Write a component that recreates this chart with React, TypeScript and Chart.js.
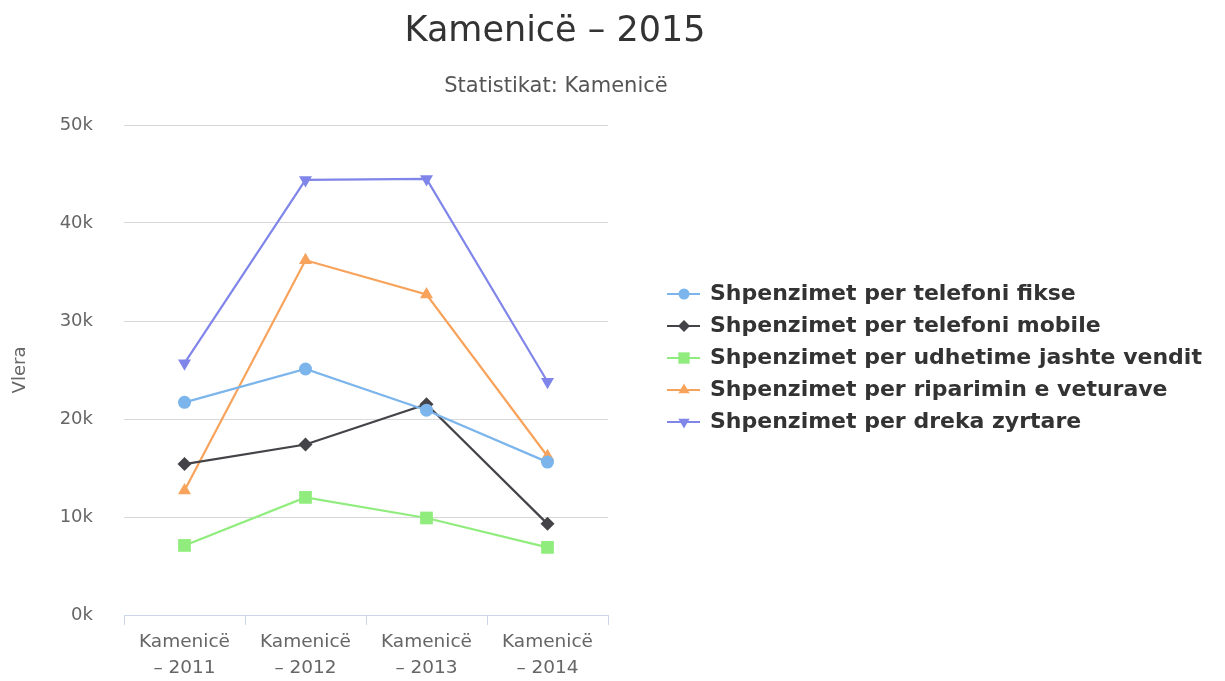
import React, { useEffect, useRef } from 'react';
import { Chart, registerables } from 'chart.js';

Chart.register(...registerables);

const categories: string[][] = [
  ['Kamenicë', '– 2011'],
  ['Kamenicë', '– 2012'],
  ['Kamenicë', '– 2013'],
  ['Kamenicë', '– 2014'],
];

const seriesNames = [
  'Shpenzimet per telefoni fikse',
  'Shpenzimet per telefoni mobile',
  'Shpenzimet per udhetime jashte vendit',
  'Shpenzimet per riparimin e veturave',
  'Shpenzimet per dreka zyrtare',
];

const telefoniFikse = [21700, 25100, 20900, 15600];
const telefoniMobile = [15400, 17400, 21500, 9300];
const udhetimeJashte = [7100, 12000, 9900, 6900];
const riparimiVeturave = [12700, 36200, 32700, 16200];
const drekaZyrtare = [25700, 44400, 44500, 23800];

const yTicks = [0, 10000, 20000, 30000, 40000, 50000];

const titleText = 'Kamenicë – 2015';
const subtitleText = 'Statistikat: Kamenicë';
const yTitle = 'Vlera';

const colors = ['#7cb5ec', '#434348', '#90ed7d', '#f7a35c', '#8085e9'];
const markers = ['circle', 'rectRot', 'rect', 'triangle', 'triangle'];
const rotations = [0, 0, 0, 0, 180];
const radii = [6.5, 7, 9, 7.5, 7.5];

const FONT = '"DejaVu Sans", "Lucida Grande", sans-serif';

function drawMarker(ctx: CanvasRenderingContext2D, style: string, rot: number, x: number, y: number, r: number) {
  ctx.beginPath();
  if (style === 'circle') {
    ctx.arc(x, y, r, 0, Math.PI * 2);
  } else if (style === 'rect') {
    const s = r * Math.SQRT1_2;
    ctx.rect(x - s, y - s, 2 * s, 2 * s);
  } else if (style === 'rectRot') {
    ctx.moveTo(x, y - r);
    ctx.lineTo(x + r, y);
    ctx.lineTo(x, y + r);
    ctx.lineTo(x - r, y);
    ctx.closePath();
  } else if (style === 'triangle') {
    const a = (rot * Math.PI) / 180;
    for (let k = 0; k < 3; k++) {
      const ang = a - Math.PI / 2 + (k * 2 * Math.PI) / 3;
      const px = x + Math.cos(ang) * r;
      const py = y + Math.sin(ang) * r;
      if (k === 0) ctx.moveTo(px, py);
      else ctx.lineTo(px, py);
    }
    ctx.closePath();
  }
  ctx.fill();
}

const decorPlugin = {
  id: 'decor',
  afterDraw(chart: any) {
    const ctx: CanvasRenderingContext2D = chart.ctx;
    ctx.save();
    ctx.textAlign = 'center';
    ctx.textBaseline = 'middle';
    ctx.fillStyle = '#333333';
    ctx.font = `35px ${FONT}`;
    ctx.fillText(titleText, 555, 32);
    ctx.fillStyle = '#555555';
    ctx.font = `21px ${FONT}`;
    ctx.fillText(subtitleText, 556, 87);

    // legend
    const startY = 294;
    const step = 32;
    chart.data.datasets.forEach((ds: any, i: number) => {
      const y = startY + i * step;
      ctx.strokeStyle = colors[i];
      ctx.lineWidth = 2;
      ctx.beginPath();
      ctx.moveTo(667, y);
      ctx.lineTo(700, y);
      ctx.stroke();
      ctx.fillStyle = colors[i];
      drawMarker(ctx, markers[i], rotations[i], 684, y, radii[i] - 1);
      ctx.fillStyle = '#333333';
      ctx.textAlign = 'left';
      ctx.font = `bold 22px ${FONT}`;
      ctx.fillText(ds.label, 710, y);
    });
    ctx.restore();
  },
};

export default function App() {
  const canvasRef = useRef<HTMLCanvasElement | null>(null);

  useEffect(() => {
    const canvas = canvasRef.current;
    if (!canvas) return;
    const seriesData = [telefoniFikse, telefoniMobile, udhetimeJashte, riparimiVeturave, drekaZyrtare];
    const chart = new Chart(canvas, {
      type: 'line',
      data: {
        labels: categories,
        datasets: seriesData.map((d, i) => ({
          label: seriesNames[i],
          data: d,
          borderColor: colors[i],
          backgroundColor: colors[i],
          borderWidth: 2.2,
          pointStyle: markers[i] as any,
          pointRotation: rotations[i],
          pointRadius: radii[i],
          pointBorderWidth: 0,
          pointBackgroundColor: colors[i],
          tension: 0,
          fill: false,
        })),
      },
      options: {
        animation: false,
        responsive: false,
        layout: { padding: { left: 0, right: 617, top: 125, bottom: 0 } },
        plugins: {
          legend: { display: false },
          title: { display: false },
          tooltip: { enabled: false },
        },
        scales: {
          x: {
            type: 'category',
            offset: true,
            afterFit: (scale: any) => {
              scale.height = 66;
            },
            grid: {
              offset: true,
              drawOnChartArea: false,
              drawTicks: true,
              tickLength: 10,
              color: '#ccd6eb',
            },
            border: { display: true, color: '#ccd6eb' },
            ticks: {
              color: '#666666',
              font: { family: FONT, size: 18.5, lineHeight: 26 / 18.5 },
              maxRotation: 0,
              autoSkip: false,
              padding: 4,
            },
          },
          y: {
            min: 0,
            max: 50000,
            afterBuildTicks: (scale: any) => {
              scale.ticks = yTicks.map((v) => ({ value: v }));
            },
            afterFit: (scale: any) => {
              scale.width = 124;
            },
            grid: { color: '#d8d8d8', drawTicks: false },
            border: { display: false },
            ticks: {
              color: '#666666',
              font: { family: FONT, size: 18 },
              padding: 31,
              callback: (v: any) => `${Number(v) / 1000}k`,
            },
            title: {
              display: true,
              text: yTitle,
              color: '#666666',
              font: { family: FONT, size: 18 },
              padding: { top: 10, bottom: 0 },
            },
          },
        },
      },
      plugins: [decorPlugin],
    });
    return () => chart.destroy();
  }, []);

  return (
    <div style={{ position: 'absolute', left: 0, top: 0, width: 1225, height: 681, background: '#ffffff' }}>
      <canvas ref={canvasRef} width={1225} height={681} style={{ width: 1225, height: 681 }} />
    </div>
  );
}
